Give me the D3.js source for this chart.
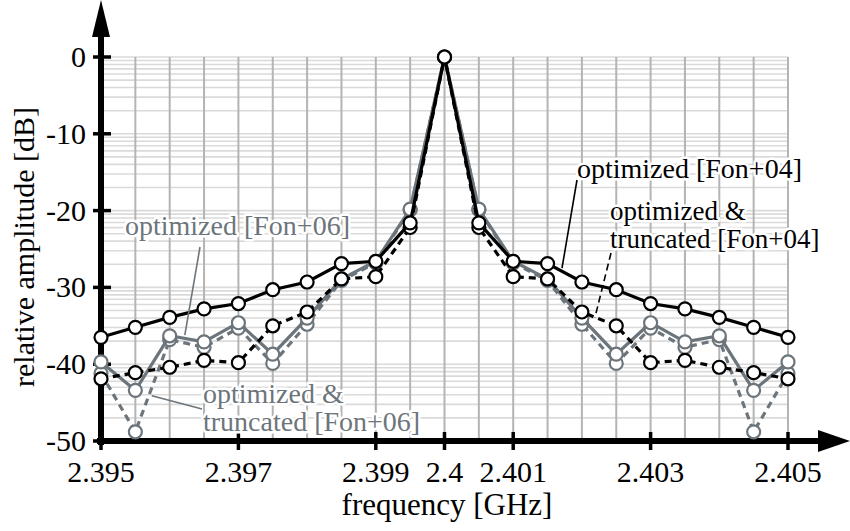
<!DOCTYPE html>
<html><head><meta charset="utf-8">
<script src="https://cdn.jsdelivr.net/npm/d3@7"></script>
<style>body{margin:0;background:#fff}svg{display:block}</style>
</head><body><svg id="c" width="850" height="531"></svg>
<script>
const frequencies = [2.395, 2.3955, 2.396, 2.3965, 2.397, 2.3975, 2.398, 2.3985, 2.399, 2.3995, 2.4,
                     2.4005, 2.401, 2.4015, 2.402, 2.4025, 2.403, 2.4035, 2.404, 2.4045, 2.405];
const optimized04 = [-36.5, -35.2, -33.9, -32.8, -32.1, -30.3, -29.3, -26.9, -26.6, -21.6, 0,
                     -21.6, -26.6, -26.9, -29.3, -30.3, -32.1, -32.8, -33.9, -35.2, -36.5];
const truncated04 = [-41.9, -41.1, -40.4, -39.5, -39.8, -35.0, -33.2, -28.9, -28.6, -22.2, 0,
                     -22.2, -28.6, -28.9, -33.2, -35.0, -39.8, -39.5, -40.4, -41.1, -41.9];
const optimized06 = [-39.7, -43.4, -36.3, -37.1, -34.6, -38.7, -34.0, -28.9, -26.6, -19.8, 0,
                     -19.8, -26.6, -28.9, -34.0, -38.7, -34.6, -37.1, -36.3, -43.4, -39.7];
const truncated06 = [-41.2, -48.8, -36.8, -37.8, -35.3, -39.9, -34.8, -29.1, -26.8, -19.9, 0,
                     -19.9, -26.8, -29.1, -34.8, -39.9, -35.3, -37.8, -36.8, -48.8, -41.2];
const xTickValues = [2.395, 2.397, 2.399, 2.4, 2.401, 2.403, 2.405];
const xTickLabels = ["2.395", "2.397", "2.399", "2.4", "2.401", "2.403", "2.405"];
const yTickValues = [0, -10, -20, -30, -40, -50];
const yTickLabels = ["0", "-10", "-20", "-30", "-40", "-50"];
const seriesNames = ["optimized [Fon+04]", "optimized & truncated [Fon+04]", "optimized [Fon+06]", "optimized & truncated [Fon+06]"];

const GREY = "#6c757b";
const FONT = "'Liberation Serif','Times New Roman',serif";
const svg = d3.select("#c");
const x = d3.scaleLinear().domain([2.395, 2.405]).range([101, 788]);
const y = d3.scaleLinear().domain([-50, 0]).range([441, 57]);

// grid
const g = svg.append("g");
const minor = [];
for (let d = 0; d > -50; d -= 10) {
  for (let k = 2; k <= 9; k++) minor.push(d - 10 + 10 * Math.log10(k));
  minor.push(d);
}
g.selectAll(".hg").data(minor).join("line")
  .attr("x1", x(2.395)).attr("x2", x(2.405))
  .attr("y1", d => y(d)).attr("y2", d => y(d))
  .attr("stroke", "#dadada").attr("stroke-width", 1.6);
const vgrid = d3.range(1, 21).map(i => 2.395 + i * 0.0005);
g.selectAll(".vg").data(vgrid).join("line")
  .attr("x1", d => x(d)).attr("x2", d => x(d))
  .attr("y1", y(0)).attr("y2", y(-50))
  .attr("stroke", "#b4b4b4").attr("stroke-width", 2);

// axes
const ax = svg.append("g");
ax.append("line").attr("x1", x(2.395) - 4).attr("x2", 822).attr("y1", y(-50)).attr("y2", y(-50))
  .attr("stroke", "#000").attr("stroke-width", 6);
ax.append("path").attr("d", `M818,${y(-50) - 11}L850,${y(-50)}L818,${y(-50) + 11}Z`).attr("fill", "#000");
ax.append("line").attr("x1", x(2.395)).attr("x2", x(2.395)).attr("y1", y(-50) + 4).attr("y2", 34)
  .attr("stroke", "#000").attr("stroke-width", 6);
ax.append("path").attr("d", `M${x(2.395) - 9},37L${x(2.395)},0L${x(2.395) + 9},37Z`).attr("fill", "#000");
ax.selectAll(".xt").data(xTickValues).join("line")
  .attr("x1", d => x(d)).attr("x2", d => x(d)).attr("y1", y(-50) - 9).attr("y2", y(-50) + 9)
  .attr("stroke", "#000").attr("stroke-width", 3.5);
ax.selectAll(".yt").data(yTickValues).join("line")
  .attr("y1", d => y(d)).attr("y2", d => y(d)).attr("x1", x(2.395) - 8).attr("x2", x(2.395) + 10)
  .attr("stroke", "#000").attr("stroke-width", 3.5);
ax.selectAll(".xl").data(xTickValues).join("text")
  .attr("x", d => x(d)).attr("y", 482).attr("text-anchor", "middle")
  .attr("font-family", FONT).attr("font-size", 30).attr("fill", "#000")
  .text((d, i) => xTickLabels[i]);
ax.selectAll(".yl").data(yTickValues).join("text")
  .attr("x", 86).attr("y", d => y(d) + 10).attr("text-anchor", "end")
  .attr("font-family", FONT).attr("font-size", 30).attr("fill", "#000")
  .text((d, i) => yTickLabels[i]);
ax.append("text").attr("x", 447).attr("y", 515).attr("text-anchor", "middle")
  .attr("font-family", FONT).attr("font-size", 31).text("frequency [GHz]");
ax.append("text").attr("transform", "translate(34,247) rotate(-90)").attr("text-anchor", "middle")
  .attr("font-family", FONT).attr("font-size", 30).text("relative amplitude [dB]");

// series
const series = [
  {vals: truncated06, color: GREY, dash: "7,5"},
  {vals: optimized06, color: GREY, dash: null},
  {vals: truncated04, color: "#000", dash: "7,5"},
  {vals: optimized04, color: "#000", dash: null}
];
const line = d3.line().x((d, i) => x(frequencies[i])).y(d => y(d));
series.forEach(s => {
  const sg = svg.append("g");
  sg.append("path").attr("d", line(s.vals)).attr("fill", "none")
    .attr("stroke", s.color).attr("stroke-width", 3.2)
    .attr("stroke-dasharray", s.dash).attr("stroke-linejoin", "miter");
  sg.selectAll("circle").data(s.vals).join("circle")
    .attr("cx", (d, i) => x(frequencies[i])).attr("cy", d => y(d)).attr("r", 6.5)
    .attr("fill", "#fff").attr("stroke", s.color).attr("stroke-width", 2.2);
});

// annotations
const an = svg.append("g");
function leader(x1, y1, x2, y2, color, dash) {
  an.append("line").attr("x1", x1).attr("y1", y1).attr("x2", x2).attr("y2", y2)
    .attr("stroke", color).attr("stroke-width", 1.6).attr("stroke-dasharray", dash);
}
leader(577, 180, x(2.40171), y(-27.5), "#000", null);
leader(611, 253, x(2.40219), y(-33.9), "#000", "7,4");
leader(200, 247, x(2.39622), y(-36.2), GREY, null);
leader(x(2.39574), y(-44.1), 202, 409, GREY, null);
function label(lines, x0, ys, color, size) {
  lines.forEach((s, i) => {
    an.append("text").attr("x", x0).attr("y", ys[i])
      .attr("font-family", FONT).attr("font-size", size).attr("fill", color)
      .attr("stroke", "#fff").attr("stroke-width", 5).attr("paint-order", "stroke")
      .attr("stroke-linejoin", "round").text(s);
  });
}
label(["optimized [Fon+04]"], 577, [178], "#000", 28);
label(["optimized &", "truncated [Fon+04]"], 610, [220, 248], "#000", 27);
label(["optimized [Fon+06]"], 125, [235], GREY, 28);
label(["optimized &", "truncated [Fon+06]"], 203, [403, 431], GREY, 28);
</script></body></html>
